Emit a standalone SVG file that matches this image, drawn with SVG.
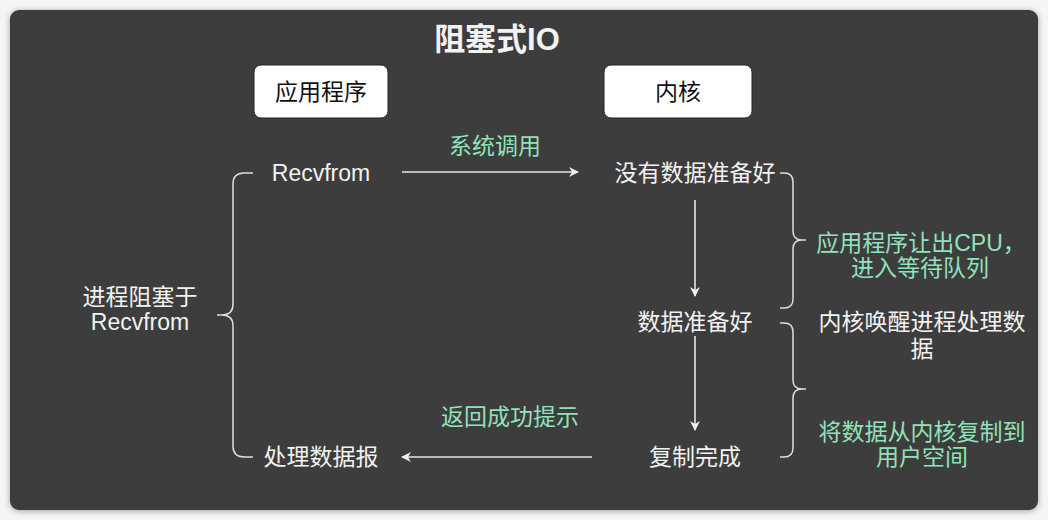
<svg xmlns="http://www.w3.org/2000/svg" width="1048" height="520" viewBox="0 0 1048 520">
<defs>
<marker id="ah" viewBox="0 0 10 10" refX="9" refY="5" markerWidth="10" markerHeight="10" markerUnits="userSpaceOnUse" orient="auto"><path d="M0,0 L10,5 L0,10 L3,5 Z" fill="#eeeeee"/></marker>
<filter id="sh" x="-5%" y="-5%" width="110%" height="110%"><feDropShadow dx="0" dy="1" stdDeviation="3" flood-color="#000" flood-opacity="0.35"/></filter>
</defs>
<style>
text{font-family:"Liberation Sans","Noto Sans CJK SC",sans-serif;font-size:23px;text-anchor:middle;dominant-baseline:central}
.w{fill:#f2f2f2}
.g{fill:#8fe3bb}
.k{fill:#111}
.box{fill:#ffffff;stroke:#222;stroke-width:1}
.ln{stroke:#e6e6e6;stroke-width:1.6;fill:none}
.br{stroke:#dddddd;stroke-width:1.5;fill:none}
</style>
<rect width="1048" height="520" fill="#f5f5f5"/>
<rect x="10" y="10" width="1028" height="500" rx="9" fill="#3c3c3c" filter="url(#sh)"/>
<text x="497" y="39" class="w" style="font-size:31px;font-weight:bold">阻塞式IO</text>
<g id="app"><rect class="box" x="254" y="65" width="134" height="53" rx="7"/><text x="321" y="92" class="k">应用程序</text></g>
<g id="kernel"><rect class="box" x="604" y="65" width="148" height="53" rx="7"/><text x="678" y="92" class="k">内核</text></g>
<g id="recvfrom"><text x="321" y="173" class="w">Recvfrom</text></g>
<g id="nodata"><text x="695" y="173" class="w">没有数据准备好</text></g>
<g id="dataready"><text x="695" y="322" class="w">数据准备好</text></g>
<g id="copydone"><text x="695" y="457" class="w">复制完成</text></g>
<g id="process"><text x="321" y="457" class="w">处理数据报</text></g>
<g id="blocked"><text x="140" y="297" class="w">进程阻塞于</text><text x="140" y="322" class="w">Recvfrom</text></g>
<g id="yield"><text x="921" y="243" class="g">应用程序让出CPU，</text><text x="920" y="268" class="g">进入等待队列</text></g>
<g id="wake"><text x="922" y="322" class="w">内核唤醒进程处理数</text><text x="922" y="349" class="w">据</text></g>
<g id="copy"><text x="922" y="432" class="g">将数据从内核复制到</text><text x="922" y="457" class="g">用户空间</text></g>
<g id="connectors">
<line class="ln" x1="402" y1="172" x2="578" y2="172" marker-end="url(#ah)"/>
<text x="495" y="146" class="g">系统调用</text>
<line class="ln" x1="695" y1="200" x2="695" y2="296" marker-end="url(#ah)"/>
<line class="ln" x1="695" y1="336" x2="695" y2="430" marker-end="url(#ah)"/>
<line class="ln" x1="592" y1="457" x2="402" y2="457" marker-end="url(#ah)"/>
<text x="510" y="417" class="g">返回成功提示</text>
<path class="br" d="M253,173 H244 Q233,173 233,184 V304 Q233,315 222,315 H217 M222,315 Q233,315 233,326 V446 Q233,457 244,457 H253"/>
<path class="br" d="M780,173 H784 Q793,173 793,182 V231 Q793,240 802,240 H806 M802,240 Q793,240 793,249 V299 Q793,308 784,308 H780"/>
<path class="br" d="M780,323 H784 Q793,323 793,332 V380 Q793,389 802,389 H806 M802,389 Q793,389 793,398 V448 Q793,457 784,457 H780"/>
</g>
</svg>
